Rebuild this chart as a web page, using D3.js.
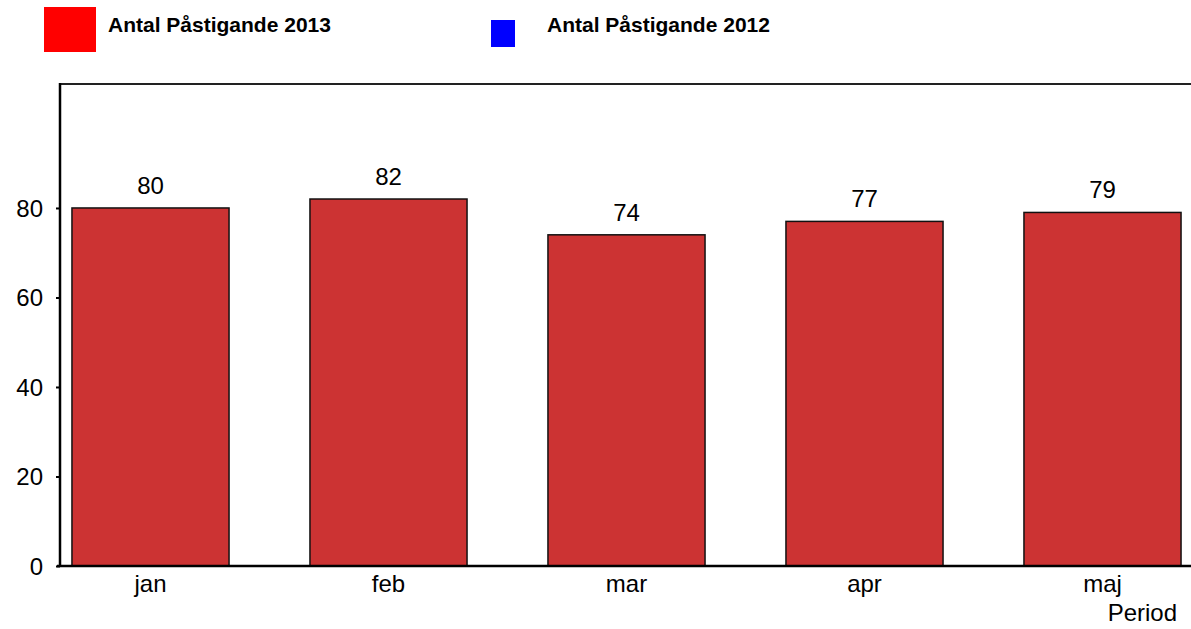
<!DOCTYPE html>
<html>
<head>
<meta charset="utf-8">
<script src="https://cdn.jsdelivr.net/npm/d3@7"></script>
<style>
  html, body { margin: 0; padding: 0; background: #fff; }
  svg { display: block; font-family: "Liberation Sans", Arial, sans-serif; }
</style>
</head>
<body>
<svg id="chart" width="1191" height="629"></svg>
<script>
// data
const months = ["jan", "feb", "mar", "apr", "maj"];
const riders2013 = [80, 82, 74, 77, 79];
const yTicks = [0, 20, 40, 60, 80];
const legendLabels = ["Antal Påstigande 2013", "Antal Påstigande 2012"];

const svg = d3.select("#chart");

// scales
const x = d3.scaleBand()
  .domain(months)
  .range([31.5, 1221.5])
  .paddingInner(0.34)
  .paddingOuter(0.17);

const y = d3.scaleLinear()
  .domain([0, 107.7])
  .range([566, 84]);

// legend
const legend = svg.append("g");
legend.append("rect")
  .attr("x", 44).attr("y", 7)
  .attr("width", 52).attr("height", 45)
  .attr("fill", "#ff0000");
legend.append("text")
  .attr("x", 108).attr("y", 32)
  .style("font-size", "21px")
  .style("font-weight", "bold")
  .text(legendLabels[0]);
legend.append("rect")
  .attr("x", 491).attr("y", 20)
  .attr("width", 24).attr("height", 27)
  .attr("fill", "#0000ff");
legend.append("text")
  .attr("x", 547).attr("y", 32)
  .style("font-size", "21px")
  .style("font-weight", "bold")
  .text(legendLabels[1]);

// top frame line
svg.append("line")
  .attr("x1", 59).attr("x2", 1191)
  .attr("y1", y.range()[1]).attr("y2", y.range()[1])
  .attr("stroke", "#222")
  .attr("stroke-width", 2);

// bars
svg.append("g")
  .selectAll("rect")
  .data(months)
  .join("rect")
  .attr("x", d => x(d))
  .attr("y", (d, i) => y(riders2013[i]))
  .attr("width", x.bandwidth())
  .attr("height", (d, i) => y(0) - y(riders2013[i]))
  .attr("fill", "#cc3333")
  .attr("stroke", "#111")
  .attr("stroke-width", 1.5);

// value labels
svg.append("g")
  .selectAll("text")
  .data(months)
  .join("text")
  .attr("x", d => x(d) + x.bandwidth() / 2)
  .attr("y", (d, i) => y(riders2013[i]) - 14)
  .attr("text-anchor", "middle")
  .style("font-size", "24px")
  .text((d, i) => riders2013[i]);

// y axis
const yAxis = svg.append("g")
  .attr("transform", "translate(60,0)")
  .call(d3.axisLeft(y).tickValues(yTicks).tickSize(4).tickPadding(13));
yAxis.select(".domain")
  .attr("d", `M0,${y.range()[1] - 1}V${y(0) + 1}`)
  .attr("stroke", "#000")
  .attr("stroke-width", 2.5);
yAxis.selectAll(".tick line").attr("stroke-width", 2);
yAxis.selectAll(".tick text")
  .style("font-size", "24px")
  .style("font-family", "'Liberation Sans', Arial, sans-serif")
  .attr("fill", "#000")
  .attr("dy", "0.35em");

// x axis
const xAxis = svg.append("g")
  .attr("transform", `translate(0,${y(0)})`)
  .call(d3.axisBottom(x).tickSize(0).tickPadding(9));
xAxis.select(".domain")
  .attr("d", "M57,0H1191")
  .attr("stroke", "#000")
  .attr("stroke-width", 2.5);
xAxis.selectAll(".tick text")
  .style("font-size", "24px")
  .style("font-family", "'Liberation Sans', Arial, sans-serif")
  .attr("fill", "#000");

// axis title
svg.append("text")
  .attr("x", 1177).attr("y", 621)
  .attr("text-anchor", "end")
  .style("font-size", "24px")
  .text("Period");
</script>
</body>
</html>
